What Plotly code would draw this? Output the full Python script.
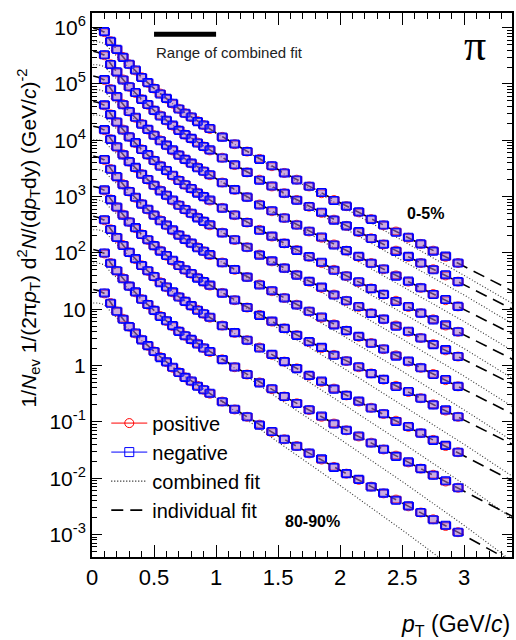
import plotly.graph_objects as go

# ---------------- data ----------------
centralities = ["0-5%", "5-10%", "10-20%", "20-30%", "30-40%",
                "40-50%", "50-60%", "60-70%", "70-80%", "80-90%"]

pt = [0.10, 0.15, 0.20, 0.25, 0.30, 0.35, 0.40, 0.45, 0.50, 0.55,
      0.60, 0.65, 0.70, 0.75, 0.80, 0.85, 0.90, 0.95, 1.05, 1.15,
      1.25, 1.35, 1.45, 1.55, 1.65, 1.75, 1.85, 1.95, 2.05, 2.15,
      2.25, 2.35, 2.45, 2.55, 2.65, 2.75, 2.85, 2.95]

# log10 of the (scaled) invariant yield of positive pions
log_pos_0_5 = [5.92, 5.76, 5.61, 5.48, 5.35, 5.24, 5.12, 5.02, 4.92, 4.83, 4.74, 4.65, 4.56, 4.48, 4.41, 4.34, 4.27, 4.20, 4.06, 3.93, 3.80, 3.67, 3.54, 3.42, 3.30, 3.18, 3.06, 2.94, 2.83, 2.72, 2.60, 2.49, 2.38, 2.27, 2.16, 2.04, 1.93, 1.82]
log_pos_5_10 = [5.51, 5.35, 5.21, 5.08, 4.95, 4.84, 4.73, 4.63, 4.53, 4.44, 4.35, 4.26, 4.18, 4.10, 4.03, 3.96, 3.89, 3.82, 3.69, 3.56, 3.43, 3.30, 3.18, 3.06, 2.94, 2.82, 2.71, 2.59, 2.48, 2.37, 2.26, 2.15, 2.04, 1.93, 1.82, 1.71, 1.60, 1.49]
log_pos_10_20 = [5.07, 4.91, 4.77, 4.64, 4.51, 4.40, 4.29, 4.19, 4.09, 4.00, 3.91, 3.82, 3.74, 3.66, 3.59, 3.52, 3.45, 3.38, 3.25, 3.12, 2.99, 2.86, 2.74, 2.62, 2.50, 2.38, 2.27, 2.15, 2.04, 1.93, 1.82, 1.71, 1.60, 1.49, 1.38, 1.27, 1.16, 1.05]
log_pos_20_30 = [4.62, 4.46, 4.32, 4.19, 4.06, 3.95, 3.84, 3.74, 3.64, 3.55, 3.46, 3.37, 3.29, 3.21, 3.14, 3.07, 3.00, 2.93, 2.80, 2.67, 2.54, 2.41, 2.29, 2.17, 2.05, 1.93, 1.82, 1.70, 1.59, 1.48, 1.37, 1.26, 1.15, 1.04, 0.93, 0.82, 0.71, 0.60]
log_pos_30_40 = [4.18, 4.02, 3.88, 3.75, 3.62, 3.51, 3.40, 3.30, 3.20, 3.11, 3.02, 2.93, 2.85, 2.77, 2.70, 2.63, 2.56, 2.49, 2.36, 2.23, 2.10, 1.97, 1.85, 1.73, 1.61, 1.49, 1.38, 1.26, 1.15, 1.04, 0.93, 0.82, 0.71, 0.60, 0.49, 0.38, 0.27, 0.16]
log_pos_40_50 = [3.65, 3.49, 3.35, 3.22, 3.09, 2.98, 2.87, 2.77, 2.67, 2.58, 2.49, 2.40, 2.32, 2.24, 2.17, 2.10, 2.03, 1.96, 1.83, 1.70, 1.57, 1.44, 1.32, 1.20, 1.08, 0.96, 0.85, 0.73, 0.62, 0.51, 0.40, 0.29, 0.18, 0.07, -0.04, -0.15, -0.26, -0.37]
log_pos_50_60 = [3.11, 2.95, 2.81, 2.68, 2.55, 2.44, 2.33, 2.23, 2.13, 2.04, 1.95, 1.86, 1.78, 1.70, 1.63, 1.56, 1.49, 1.42, 1.29, 1.16, 1.03, 0.90, 0.78, 0.66, 0.54, 0.42, 0.31, 0.19, 0.08, -0.03, -0.14, -0.25, -0.36, -0.47, -0.58, -0.69, -0.80, -0.91]
log_pos_60_70 = [2.58, 2.42, 2.27, 2.14, 2.01, 1.89, 1.78, 1.68, 1.58, 1.48, 1.39, 1.30, 1.22, 1.14, 1.06, 0.99, 0.92, 0.85, 0.71, 0.58, 0.45, 0.32, 0.19, 0.07, -0.05, -0.18, -0.29, -0.41, -0.53, -0.64, -0.75, -0.86, -0.98, -1.09, -1.20, -1.32, -1.43, -1.54]
log_pos_70_80 = [1.99, 1.82, 1.68, 1.55, 1.41, 1.30, 1.18, 1.08, 0.98, 0.88, 0.79, 0.70, 0.61, 0.53, 0.46, 0.39, 0.31, 0.24, 0.11, -0.03, -0.16, -0.30, -0.42, -0.55, -0.67, -0.79, -0.91, -1.03, -1.15, -1.26, -1.37, -1.49, -1.60, -1.72, -1.83, -1.94, -2.06, -2.17]
log_pos_80_90 = [1.28, 1.11, 0.96, 0.83, 0.69, 0.57, 0.46, 0.35, 0.25, 0.15, 0.06, -0.04, -0.12, -0.21, -0.28, -0.36, -0.43, -0.50, -0.64, -0.78, -0.91, -1.05, -1.18, -1.31, -1.43, -1.56, -1.67, -1.80, -1.92, -2.03, -2.15, -2.27, -2.38, -2.50, -2.61, -2.73, -2.85, -2.96]

# negative / positive yield ratio per pT bin
neg_over_pos = [1.02, 0.99, 1.01, 0.98, 1.00, 1.02, 0.99, 1.01, 1.00, 0.98,
                1.01, 1.02, 0.99, 1.00, 1.01, 0.98, 1.00, 1.02, 0.99, 1.01,
                1.00, 0.98, 1.02, 1.00, 0.99, 1.01, 1.03, 0.98, 1.00, 1.02,
                0.99, 1.01, 0.97, 1.02, 1.00, 0.98, 1.03, 1.00]

# fit curves (log10 of yield) sampled at fit_pt
fit_pt = [0.01, 0.05, 0.10, 0.15, 0.20, 0.30, 0.40, 0.50, 0.70, 1.00, 1.50, 2.00, 2.50, 3.00, 3.39]

indiv_0_5 = [5.99, 5.97, 5.92, 5.76, 5.61, 5.35, 5.12, 4.92, 4.56, 4.13, 3.48, 2.89, 2.33, 1.76, 1.32]
indiv_5_10 = [5.58, 5.56, 5.51, 5.35, 5.21, 4.95, 4.73, 4.53, 4.18, 3.76, 3.12, 2.54, 1.99, 1.44, 1.00]
indiv_10_20 = [5.14, 5.12, 5.07, 4.91, 4.77, 4.51, 4.29, 4.09, 3.74, 3.32, 2.68, 2.10, 1.55, 1.00, 0.56]
indiv_20_30 = [4.69, 4.67, 4.62, 4.46, 4.32, 4.06, 3.84, 3.64, 3.29, 2.87, 2.23, 1.65, 1.10, 0.55, 0.11]
indiv_30_40 = [4.25, 4.23, 4.18, 4.02, 3.88, 3.62, 3.40, 3.20, 2.85, 2.43, 1.79, 1.21, 0.66, 0.11, -0.33]
indiv_40_50 = [3.72, 3.70, 3.65, 3.49, 3.35, 3.09, 2.87, 2.67, 2.32, 1.90, 1.26, 0.68, 0.13, -0.43, -0.86]
indiv_50_60 = [3.18, 3.16, 3.11, 2.95, 2.81, 2.55, 2.33, 2.13, 1.78, 1.36, 0.72, 0.14, -0.42, -0.97, -1.40]
indiv_60_70 = [2.65, 2.63, 2.58, 2.42, 2.27, 2.01, 1.78, 1.58, 1.22, 0.78, 0.13, -0.47, -1.04, -1.60, -2.05]
indiv_70_80 = [2.06, 2.04, 1.99, 1.82, 1.68, 1.41, 1.18, 0.98, 0.61, 0.18, -0.49, -1.09, -1.66, -2.23, -2.68]
indiv_80_90 = [1.35, 1.33, 1.28, 1.11, 0.96, 0.69, 0.46, 0.25, -0.12, -0.57, -1.25, -1.86, -2.44, -3.02, -3.49]

comb_0_5 = [5.75, 5.75, 5.72, 5.60, 5.49, 5.29, 5.10, 4.92, 4.56, 4.13, 3.46, 2.84, 2.23, 1.60, 1.10]
comb_5_10 = [5.34, 5.34, 5.31, 5.19, 5.09, 4.89, 4.71, 4.53, 4.18, 3.76, 3.10, 2.48, 1.87, 1.25, 0.74]
comb_10_20 = [4.90, 4.90, 4.87, 4.75, 4.65, 4.45, 4.27, 4.09, 3.74, 3.32, 2.65, 2.03, 1.41, 0.78, 0.26]
comb_20_30 = [4.45, 4.45, 4.42, 4.30, 4.20, 4.00, 3.82, 3.64, 3.29, 2.87, 2.20, 1.57, 0.94, 0.30, -0.23]
comb_30_40 = [4.01, 4.01, 3.98, 3.86, 3.76, 3.56, 3.38, 3.20, 2.85, 2.43, 1.75, 1.11, 0.47, -0.19, -0.73]
comb_40_50 = [3.48, 3.48, 3.45, 3.33, 3.23, 3.03, 2.85, 2.67, 2.32, 1.90, 1.21, 0.56, -0.10, -0.79, -1.34]
comb_50_60 = [2.94, 2.94, 2.91, 2.79, 2.69, 2.49, 2.31, 2.13, 1.78, 1.36, 0.66, -0.01, -0.70, -1.40, -1.97]
comb_60_70 = [2.41, 2.41, 2.38, 2.26, 2.15, 1.95, 1.76, 1.58, 1.22, 0.78, 0.06, -0.65, -1.37, -2.11, -2.72]
comb_70_80 = [1.82, 1.82, 1.79, 1.66, 1.56, 1.35, 1.16, 0.98, 0.61, 0.18, -0.58, -1.31, -2.06, -2.84, -3.48]
comb_80_90 = [1.11, 1.11, 1.08, 0.95, 0.84, 0.63, 0.44, 0.25, -0.12, -0.57, -1.36, -2.13, -2.92, -3.74, -4.43]

combined_fit_range = [0.5, 1.0]
sys_half_width = 0.04       # GeV/c
sys_rel = 0.14              # relative systematic uncertainty

y_tick_exponents = [-3, -2, -1, 0, 1, 2, 3, 4, 5, 6]
y_tick_labels = ["10<sup>-3</sup>", "10<sup>-2</sup>", "10<sup>-1</sup>", "1", "10",
                 "10<sup>2</sup>", "10<sup>3</sup>", "10<sup>4</sup>", "10<sup>5</sup>", "10<sup>6</sup>"]

spectra_pos = [log_pos_0_5, log_pos_5_10, log_pos_10_20, log_pos_20_30, log_pos_30_40,
               log_pos_40_50, log_pos_50_60, log_pos_60_70, log_pos_70_80, log_pos_80_90]
indiv_fits = [indiv_0_5, indiv_5_10, indiv_10_20, indiv_20_30, indiv_30_40,
              indiv_40_50, indiv_50_60, indiv_60_70, indiv_70_80, indiv_80_90]
comb_fits = [comb_0_5, comb_5_10, comb_10_20, comb_20_30, comb_30_40,
             comb_40_50, comb_50_60, comb_60_70, comb_70_80, comb_80_90]

for s in spectra_pos:
    assert len(s) == len(pt)
for f in indiv_fits + comb_fits:
    assert len(f) == len(fit_pt)

FONT = "Liberation Sans, Arial, Helvetica, sans-serif"
fig = go.Figure()


def box_path(xs, ys):
    bx, by = [], []
    for x, y in zip(xs, ys):
        x0, x1 = x - sys_half_width, x + sys_half_width
        y0, y1 = y / (1 + sys_rel), y * (1 + sys_rel)
        bx += [x0, x1, x1, x0, x0, None]
        by += [y0, y0, y1, y1, y0, None]
    return bx, by


# fit curves
for f in comb_fits:
    fig.add_trace(go.Scatter(x=fit_pt, y=[10 ** v for v in f], mode="lines",
                             line=dict(color="#333333", width=1.1, dash="1px,2px"),
                             showlegend=False, hoverinfo="skip"))
for f in indiv_fits:
    fig.add_trace(go.Scatter(x=fit_pt, y=[10 ** v for v in f], mode="lines",
                             line=dict(color="black", width=1.6, dash="12px,7px"),
                             showlegend=False, hoverinfo="skip"))

# data points
for s in spectra_pos:
    ypos = [10 ** v for v in s]
    yneg = [y * r for y, r in zip(ypos, neg_over_pos)]
    bx, by = box_path(pt, ypos)
    fig.add_trace(go.Scatter(x=bx, y=by, mode="lines", line=dict(color="red", width=1),
                             showlegend=False, hoverinfo="skip"))
    fig.add_trace(go.Scatter(x=pt, y=ypos, mode="markers",
                             marker=dict(symbol="circle", size=9, color="rgba(255,110,110,0.35)",
                                         line=dict(color="rgba(255,0,0,0.8)", width=1)),
                             showlegend=False))
    bx, by = box_path(pt, yneg)
    fig.add_trace(go.Scatter(x=bx, y=by, mode="lines", line=dict(color="blue", width=1.1),
                             showlegend=False, hoverinfo="skip"))
    fig.add_trace(go.Scatter(x=pt, y=yneg, mode="markers",
                             marker=dict(symbol="square", size=8, color="rgba(110,110,255,0.35)",
                                         line=dict(color="blue", width=1.1)),
                             showlegend=False))

# legend entries
fig.add_trace(go.Scatter(x=[None], y=[None], mode="lines+markers", name="positive",
                         line=dict(color="red", width=1),
                         marker=dict(symbol="circle-open", size=9, color="red")))
fig.add_trace(go.Scatter(x=[None], y=[None], mode="lines+markers", name="negative",
                         line=dict(color="blue", width=1),
                         marker=dict(symbol="square-open", size=9, color="blue")))
fig.add_trace(go.Scatter(x=[None], y=[None], mode="lines", name="combined fit",
                         line=dict(color="black", width=1.2, dash="1px,2px")))
fig.add_trace(go.Scatter(x=[None], y=[None], mode="lines", name="individual fit",
                         line=dict(color="black", width=1.8, dash="12px,7px")))

# range of combined fit bar
fig.add_shape(type="line", xref="x", yref="paper",
              x0=combined_fit_range[0], x1=combined_fit_range[1], y0=0.961, y1=0.961,
              line=dict(color="black", width=5))
fig.add_annotation(x=combined_fit_range[0], y=0.928, xref="x", yref="paper",
                   text="Range of combined fit", showarrow=False, xanchor="left",
                   yanchor="middle", font=dict(family=FONT, size=15, color="#222222"))
fig.add_annotation(x=0.912, y=0.941, xref="paper", yref="paper", text="π",
                   showarrow=False, xanchor="center", yanchor="middle",
                   font=dict(family="Liberation Serif, DejaVu Serif, serif", size=44, color="black"))
fig.add_annotation(x=0.794, y=0.632, xref="paper", yref="paper", text="<b>" + centralities[0] + "</b>",
                   showarrow=False, xanchor="center", yanchor="middle",
                   font=dict(family=FONT, size=16, color="black"))
fig.add_annotation(x=0.524, y=0.066, xref="paper", yref="paper", text="<b>" + centralities[-1] + "</b>",
                   showarrow=False, xanchor="center", yanchor="middle",
                   font=dict(family=FONT, size=16, color="black"))

# axis titles
fig.add_annotation(x=-0.152, y=0.586, xref="paper", yref="paper", textangle=-90,
                   xanchor="center", yanchor="middle",
                   text="1/<i>N</i><sub>ev</sub> 1/(2π<i>p</i><sub>T</sub>) d<sup>2</sup><i>N</i>/(d<i>p</i><sub>T</sub>dy) (GeV/<i>c</i>)<sup>-2</sup>",
                   showarrow=False, font=dict(family=FONT, size=21, color="black"))
fig.add_annotation(x=1.0, y=-0.125, xref="paper", yref="paper", xanchor="right", yanchor="middle",
                   text="<i>p</i><sub>T</sub> (GeV/<i>c</i>)", showarrow=False,
                   font=dict(family=FONT, size=23, color="black"))

fig.update_xaxes(range=[0, 3.385], showline=True, linecolor="black", linewidth=2, mirror="ticks",
                 ticks="inside", ticklen=12, tickwidth=1.3, tickcolor="black",
                 tick0=0, dtick=0.5, showgrid=False, zeroline=False,
                 minor=dict(ticks="inside", ticklen=6, dtick=0.1, tickwidth=1.1, tickcolor="black"),
                 tickfont=dict(family=FONT, size=22, color="black"))
fig.update_yaxes(type="log", range=[-3.40, 6.26], showline=True, linecolor="black", linewidth=2,
                 mirror="ticks", ticks="inside", ticklen=10, tickwidth=1.3, tickcolor="black",
                 tickmode="array", tickvals=[10 ** e for e in y_tick_exponents], ticktext=y_tick_labels,
                 showgrid=False, zeroline=False,
                 minor=dict(ticks="inside", ticklen=5, tickwidth=1, tickcolor="black", dtick="D1"),
                 tickfont=dict(family=FONT, size=21, color="black"))

fig.update_layout(width=516, height=640, margin=dict(l=92, r=2, t=13, b=83),
                  plot_bgcolor="white", paper_bgcolor="white",
                  legend=dict(x=0.034, y=0.282, xanchor="left", yanchor="top",
                              bgcolor="rgba(0,0,0,0)", font=dict(family=FONT, size=20, color="black"),
                              itemwidth=36, tracegroupgap=0),
                  showlegend=True)

fig.write_html("out.html", config={"displayModeBar": False},
               post_script="document.body.style.margin='0px';document.body.style.overflow='hidden';")
